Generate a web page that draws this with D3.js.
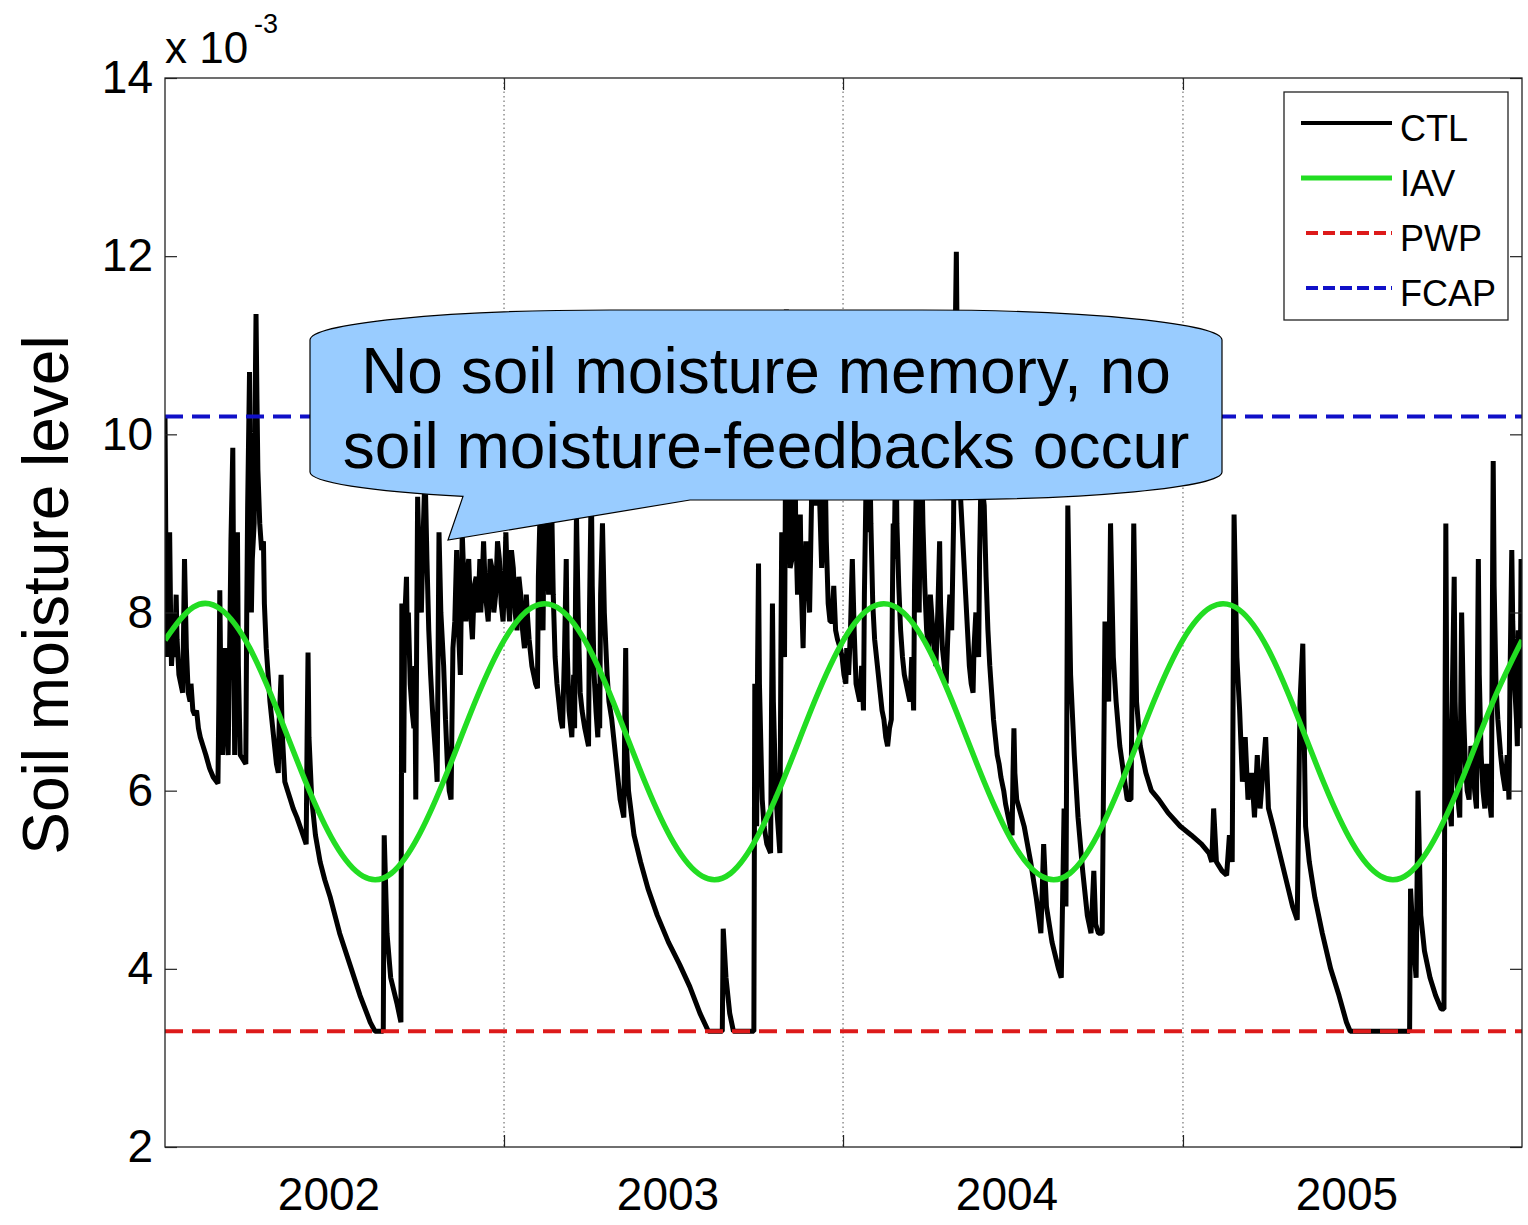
<!DOCTYPE html>
<html>
<head>
<meta charset="utf-8">
<script src="https://cdn.jsdelivr.net/npm/d3@7"></script>
<style>
  body { margin: 0; background: #fff; }
  svg { display: block; font-family: "Liberation Sans", Arial, Helvetica, sans-serif; }
</style>
</head>
<body>
<svg id="chart" width="1528" height="1225"></svg>
<script>
// ---- data ----
const yearLabels = ['2002', '2003', '2004', '2005'];
const yearBoundaryDays = [365, 730, 1096];
const yearLabelDays = [176, 541, 906, 1272];
const totalDays = 1461;
const yTicks = [2, 4, 6, 8, 10, 12, 14];
const seriesNames = ['CTL', 'IAV', 'PWP', 'FCAP'];

// permanent wilting point and field capacity (x 10^-3)
const pwpLevel = 3.3;
const fcapLevel = 10.2;

// IAV climatology, one value per month (49 samples over four years)
const iavMonthly = [
  7.69, 8.06, 8.03, 7.60, 6.88, 6.08, 5.41, 5.04, 5.07, 5.51, 6.22, 7.02,
  7.69, 8.06, 8.03, 7.60, 6.88, 6.08, 5.41, 5.04, 5.07, 5.51, 6.22, 7.02,
  7.69, 8.06, 8.03, 7.60, 6.88, 6.08, 5.41, 5.04, 5.07, 5.51, 6.22, 7.02,
  7.69, 8.06, 8.03, 7.60, 6.88, 6.08, 5.41, 5.04, 5.07, 5.51, 6.22, 7.02,
  7.69
];

// CTL run: [day since 1 Jan 2002, soil moisture x 10^-3]
const ctlSeries = [
  // 2002
  [0,10.2],[1,8.6],[2,7.5],[3,8.2],[4,7.6],[5,8.9],[6,8.0],[7,7.4],[8,7.6],[9,7.9],
  [10,7.5],[11,7.8],[12,8.2],[13,7.7],[15,7.3],[17,7.2],[19,7.1],[20,7.8],[21,8.6],[23,7.6],
  [25,7.1],[27,7.0],[28,7.2],[30,6.9],[32,6.85],[34,6.9],[36,6.7],[38,6.6],[41,6.5],[44,6.4],
  [48,6.25],[52,6.15],[57,6.08],[58,7.0],[59,8.25],[60,7.3],[62,6.4],[63,6.9],[65,7.6],[66,6.9],
  [68,6.4],[69,7.2],[70,7.9],[71,8.8],[73,9.85],[74,8.0],[75,6.4],[76,7.5],[78,8.9],[79,7.4],
  [81,6.4],[84,6.35],[87,6.3],[88,8.0],[89,9.2],[91,10.7],[92,9.0],[93,8.0],[94,8.6],[96,9.0],
  [97,10.3],[98,11.35],[99,10.4],[100,9.6],[102,9.0],[104,8.7],[106,8.8],[107,8.1],[109,7.6],[111,7.3],
  [113,7.0],[115,6.8],[118,6.5],[120,6.3],[122,6.2],[123,6.8],[125,7.3],[126,6.7],[129,6.1],[132,6.0],
  [135,5.9],[138,5.8],[142,5.7],[147,5.55],[152,5.4],[153,6.6],[154,7.55],[155,6.6],[158,5.9],[162,5.5],
  [167,5.2],[172,5.0],[178,4.8],[183,4.6],[188,4.4],
  [199,4.05],[210,3.7],[221,3.4],[226,3.3],[235,3.3],[236,5.5],[239,4.4],[243,3.9],[250,3.6],[254,3.4],
  [255,8.1],[256,6.8],[257,6.2],[258,7.9],[260,8.4],[261,7.6],[262,8.0],[264,7.2],[266,6.9],[268,6.7],
  [269,7.4],[270,5.9],[271,7.8],[272,9.3],[274,8.4],[276,8.0],[278,8.9],[280,9.6],[282,8.6],[284,7.8],
  [286,7.3],[288,6.9],[290,6.6],[292,6.3],[293,6.1],[294,7.5],[295,8.9],[297,8.0],[300,7.4],[302,6.8],
  [304,6.3],[306,6.0],[308,5.9],[309,6.8],[310,7.6],[312,7.9],[314,8.7],[316,7.8],[318,7.3],[319,8.1],
  [320,8.9],[322,8.3],[324,7.9],[325,8.4],[327,8.6],[329,8.0],[331,7.7],[333,8.3],[335,8.4],[337,8.0],
  [339,8.6],[340,8.0],[342,8.5],[343,8.8],[345,8.2],[348,7.9],[350,8.6],[352,8.5],[354,8.0],[356,8.2],
  [358,8.8],[360,8.6],[362,8.1],
  // 2003
  [364,7.9],[366,8.5],[367,8.9],[369,8.2],[371,7.9],[373,8.7],[375,8.5],[377,8.0],[379,7.8],[381,8.4],
  [383,8.2],[385,7.8],[387,7.6],[389,8.2],[390,8.0],[392,7.7],[393,7.6],[395,7.4],[397,7.3],[399,7.2],
  [401,7.15],[402,8.4],[404,9.2],[405,8.3],[407,7.8],[408,8.8],[410,9.7],[411,8.8],[413,8.2],[414,8.9],
  [416,9.4],[418,8.2],[420,7.5],[422,7.2],[424,7.0],[426,6.8],[428,6.7],[430,7.5],[432,8.6],[433,7.6],
  [435,6.9],[437,6.7],[438,6.6],[440,7.3],[441,6.7],[442,8.2],[443,9.1],[445,7.9],[447,7.1],[449,6.9],
  [452,6.7],[454,6.6],[456,6.5],[457,8.0],[459,9.5],[460,8.3],[462,7.3],[464,6.9],[466,6.6],[467,7.2],
  [468,6.7],[469,8.2],[471,9.0],[473,8.0],[476,7.3],[478,7.0],[481,6.8],[483,6.6],[486,6.3],[488,6.1],
  [490,5.9],[492,5.8],[494,5.7],[495,6.8],[496,7.6],[497,6.5],[499,6.0],[505,5.5],[512,5.2],[520,4.9],
  [530,4.6],[542,4.3],
  [554,4.05],[565,3.8],[576,3.5],[585,3.3],[600,3.3],[601,4.45],[604,3.9],[608,3.5],[612,3.3],[634,3.3],
  [635,7.2],[636,6.0],[637,5.6],[638,7.4],[639,8.55],[640,7.2],[642,6.3],[643,5.9],[645,5.6],[648,5.4],
  [650,5.35],[652,5.3],[653,6.9],[654,8.1],[655,7.0],[657,6.2],[658,5.9],[660,5.6],[662,5.3],[663,7.4],
  [664,8.9],[665,8.1],[667,7.5],[668,9.5],[669,11.4],[670,10.2],[672,9.2],[673,8.5],[675,8.6],[676,9.4],
  [678,10.2],[679,9.0],[681,8.2],[682,8.8],[684,9.1],[685,8.3],[687,7.6],[688,8.2],[690,8.8],[692,8.4],
  [694,8.0],[696,9.2],[698,11.3],[699,10.1],[701,9.2],[702,9.6],[704,10.0],[705,9.2],[707,8.5],[709,9.0],
  [711,9.5],[712,8.8],[714,8.1],[716,7.9],[718,7.9],[720,8.3],[722,7.8],[724,7.7],[727,7.6],[729,7.5],
  // 2004
  [731,7.3],[733,7.2],[734,7.6],[736,7.3],[738,7.8],[740,8.6],[742,7.8],[744,7.2],[746,7.1],[748,7.0],
  [750,7.4],[752,6.9],[753,8.2],[755,9.6],[756,8.9],[758,10.3],[760,9.0],[762,8.1],[764,7.7],[766,7.5],
  [768,7.3],[770,7.1],[772,6.9],[774,6.8],[776,6.6],[778,6.5],[780,6.7],[782,6.8],[783,8.0],[784,9.0],
  [785,8.6],[787,10.0],[788,9.0],[790,8.3],[792,7.8],[794,7.5],[796,7.3],[798,7.2],[800,7.1],[802,7.0],
  [804,7.5],[806,6.9],[807,8.3],[809,9.5],[810,8.6],[812,8.0],[813,9.2],[814,10.2],[816,9.0],[818,8.3],
  [820,7.8],[822,7.6],[824,8.2],[826,7.9],[828,7.6],[830,7.4],[832,8.0],[834,8.8],[835,8.1],[837,7.6],
  [839,7.4],[841,7.2],[843,7.8],[845,8.2],[847,7.8],[849,9.0],[850,10.5],[852,12.05],[853,10.8],[855,9.9],
  [856,9.4],[858,9.0],[860,8.6],[862,8.2],[864,7.8],[866,7.4],[868,7.2],[870,7.1],[871,7.6],[873,8.0],
  [874,7.7],[876,7.5],[877,8.6],[879,9.8],[880,9.4],[882,9.2],[884,8.4],[886,7.8],[888,7.4],[890,7.1],
  [892,6.8],[894,6.6],[896,6.4],[898,6.3],[900,6.15],[903,6.0],[905,5.85],[908,5.7],[910,5.6],[912,5.5],
  [913,6.2],[914,6.7],[915,6.2],[917,5.9],
  [925,5.6],[932,5.2],[938,4.8],[943,4.4],[946,5.4],[949,4.7],[955,4.3],[962,4.0],[965,3.9],[968,5.8],
  [970,4.7],[972,9.2],[975,7.3],[979,6.4],[983,5.7],[988,5.1],[993,4.6],[997,4.4],[1000,5.1],[1002,4.5],
  [1005,4.4],[1009,4.4],[1012,7.9],[1016,7.0],[1018,9.0],[1021,7.5],[1024,7.0],[1028,6.5],[1032,6.2],[1036,5.9],
  [1040,5.9],[1043,9.0],[1046,7.0],[1050,6.5],[1056,6.2],[1062,6.0],[1070,5.9],[1080,5.75],[1093,5.6],
  // 2005
  [1105,5.5],[1116,5.4],[1124,5.3],
  [1127,5.2],[1129,5.8],[1132,5.2],[1138,5.1],[1143,5.05],[1146,5.5],[1149,5.2],[1151,9.1],[1154,7.5],[1157,6.9],
  [1160,6.1],[1163,6.6],[1166,5.9],[1170,6.2],[1173,5.7],[1176,6.4],[1179,5.8],[1182,6.2],[1185,6.6],[1188,5.8],
  [1193,5.6],[1200,5.3],[1207,5.0],[1214,4.7],[1219,4.55],[1222,7.0],[1225,7.65],[1228,5.6],[1232,5.2],[1238,4.8],
  [1246,4.4],[1255,4.0],[1264,3.7],[1272,3.4],[1276,3.3],
  [1340,3.3],[1341,4.9],[1344,4.3],[1347,3.9],[1349,6.0],[1352,4.6],[1356,4.2],[1362,3.9],[1368,3.7],[1374,3.55],
  [1377,3.55],[1378,6.5],[1379,9.0],[1380,7.0],[1382,6.0],[1384,5.7],[1385,5.6],[1386,7.1],[1388,8.4],[1389,7.0],
  [1391,6.1],[1393,5.8],[1394,5.7],[1395,6.9],[1396,8.0],[1398,6.9],[1400,6.3],[1402,6.0],[1404,5.9],[1406,6.5],
  [1408,6.4],[1410,6.0],[1412,5.8],[1413,7.3],[1414,8.6],[1415,7.3],[1417,6.4],[1419,6.0],[1421,5.8],[1423,6.3],
  [1425,6.0],[1427,5.8],[1428,5.7],[1429,7.8],[1430,9.7],[1431,8.3],[1433,7.2],[1435,6.8],[1438,6.4],[1440,6.2],
  [1443,6.0],[1445,6.4],[1447,5.9],[1448,7.2],[1450,8.7],[1451,7.9],[1453,7.2],[1455,6.8],[1456,6.5],[1457,7.8],
  [1459,7.0],[1460,8.6],[1461,6.7]
];

const calloutLines = ['No soil moisture memory, no', 'soil moisture-feedbacks occur'];

// ---- layout ----
const frame = { left: 165, right: 1522, top: 78, bottom: 1147 };
const colors = { CTL: '#000000', IAV: '#22dd22', PWP: '#dd1a1a', FCAP: '#1010c8' };
const axisColor = '#222';

const svg = d3.select('#chart');

const x = d3.scaleLinear().domain([0, totalDays]).range([frame.left, frame.right]);
const y = d3.scaleLinear().domain([2, 14]).range([frame.bottom, frame.top]);

const plot = svg.append('g');

// clip marks to the axes box
svg.append('defs').append('clipPath').attr('id', 'plot-clip')
  .append('rect')
  .attr('x', frame.left).attr('y', frame.top)
  .attr('width', frame.right - frame.left).attr('height', frame.bottom - frame.top);

// dotted year grid lines
plot.append('g').selectAll('line')
  .data(yearBoundaryDays)
  .join('line')
  .attr('x1', d => x(d)).attr('x2', d => x(d))
  .attr('y1', frame.top).attr('y2', frame.bottom)
  .attr('stroke', '#555').attr('stroke-width', 1)
  .attr('stroke-dasharray', '1.5,3');

const marks = plot.append('g').attr('clip-path', 'url(#plot-clip)');

// CTL
marks.append('path')
  .datum(ctlSeries)
  .attr('fill', 'none')
  .attr('stroke', colors.CTL)
  .attr('stroke-width', 5)
  .attr('stroke-linejoin', 'bevel')
  .attr('d', d3.line().x(d => x(d[0])).y(d => y(d[1])));

// IAV
const daysPerMonth = totalDays / (iavMonthly.length - 1);
marks.append('path')
  .datum(iavMonthly)
  .attr('fill', 'none')
  .attr('stroke', colors.IAV)
  .attr('stroke-width', 5.5)
  .attr('d', d3.line().curve(d3.curveNatural).x((d, i) => x(i * daysPerMonth)).y(d => y(d)));

// PWP and FCAP thresholds
[['PWP', pwpLevel], ['FCAP', fcapLevel]].forEach(([name, level]) => {
  marks.append('line')
    .attr('x1', x(0)).attr('x2', x(totalDays))
    .attr('y1', y(level)).attr('y2', y(level))
    .attr('stroke', colors[name])
    .attr('stroke-width', 4)
    .attr('stroke-dasharray', '18,9');
});

// ---- axes ----
function styleAxis(g) {
  g.select('.domain').remove();
  g.selectAll('.tick line').attr('stroke', axisColor).attr('stroke-width', 1.2);
  g.selectAll('.tick text').attr('fill', '#000').attr('font-size', 46)
    .attr('font-family', '"Liberation Sans", Arial, sans-serif');
}

svg.append('g')
  .attr('transform', `translate(${frame.left},0)`)
  .call(d3.axisLeft(y).tickValues(yTicks).tickSize(-12).tickPadding(12).tickFormat(d3.format('d')))
  .call(styleAxis);

svg.append('g')
  .attr('transform', `translate(${frame.right},0)`)
  .call(d3.axisRight(y).tickValues(yTicks).tickSize(-12).tickFormat(''))
  .call(styleAxis);

svg.append('g')
  .attr('transform', `translate(0,${frame.bottom})`)
  .call(d3.axisBottom(x).tickValues(yearBoundaryDays).tickSize(-12).tickFormat(''))
  .call(styleAxis);

svg.append('g')
  .attr('transform', `translate(0,${frame.top})`)
  .call(d3.axisTop(x).tickValues(yearBoundaryDays).tickSize(-12).tickFormat(''))
  .call(styleAxis);

// year labels sit mid-year
svg.append('g')
  .attr('transform', `translate(0,${frame.bottom})`)
  .call(d3.axisBottom(x).tickValues(yearLabelDays).tickSize(0).tickPadding(30)
    .tickFormat((d, i) => yearLabels[i]))
  .call(styleAxis)
  .call(g => g.selectAll('.tick text').attr('dy', '0.71em'));

// axes box
svg.append('rect')
  .attr('x', frame.left).attr('y', frame.top)
  .attr('width', frame.right - frame.left).attr('height', frame.bottom - frame.top)
  .attr('fill', 'none').attr('stroke', axisColor).attr('stroke-width', 1.3);

// exponent label
svg.append('text').attr('x', 165).attr('y', 63).attr('font-size', 44).attr('fill', '#000').text('x 10');
svg.append('text').attr('x', 254).attr('y', 33).attr('font-size', 27).attr('fill', '#000').text('-3');

// y axis title
svg.append('text')
  .attr('transform', 'translate(68,595) rotate(-90)')
  .attr('text-anchor', 'middle')
  .attr('font-size', 64)
  .attr('fill', '#000')
  .text('Soil moisture level');

// ---- legend ----
const legend = svg.append('g');
legend.append('rect')
  .attr('x', 1284).attr('y', 92).attr('width', 224).attr('height', 228)
  .attr('fill', '#fff').attr('stroke', axisColor).attr('stroke-width', 1.3);

const legendStyle = {
  CTL: { w: 4, dash: null, x1: 1301 },
  IAV: { w: 5, dash: null, x1: 1301 },
  PWP: { w: 4, dash: '12,5', x1: 1306 },
  FCAP: { w: 4, dash: '12,5', x1: 1306 }
};
const legendRow = d3.scaleLinear().domain([0, 3]).range([123, 288]);
seriesNames.forEach((name, i) => {
  const ly = legendRow(i);
  const st = legendStyle[name];
  legend.append('line')
    .attr('x1', st.x1).attr('x2', 1392).attr('y1', ly).attr('y2', ly)
    .attr('stroke', colors[name]).attr('stroke-width', st.w)
    .attr('stroke-dasharray', st.dash);
  legend.append('text')
    .attr('x', 1400).attr('y', ly + 18)
    .attr('font-size', 36).attr('fill', '#000')
    .text(name);
});

// ---- callout ----
const callout = svg.append('g');
callout.append('path')
  .attr('d', 'M310,340 A300,30 0 0 1 610,310 H922 A300,30 0 0 1 1222,340 V472 ' +
             'A300,28 0 0 1 922,500 H690 L448,540 L463,496.4 A300,28 0 0 1 310,472 Z')
  .attr('fill', '#99ccff')
  .attr('stroke', '#000')
  .attr('stroke-width', 1.2);

callout.selectAll('text')
  .data(calloutLines)
  .join('text')
  .attr('x', 766)
  .attr('y', (d, i) => 393 + i * 75)
  .attr('text-anchor', 'middle')
  .attr('font-size', 64)
  .attr('fill', '#000')
  .text(d => d);
</script>
</body>
</html>
